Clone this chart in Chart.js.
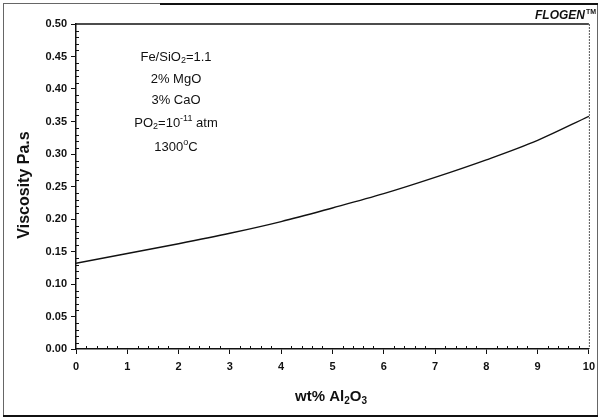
<!DOCTYPE html>
<html>
<head>
<meta charset="utf-8">
<title>Viscosity vs Al2O3</title>
<script src="https://cdn.jsdelivr.net/npm/chart.js@4.4.0/dist/chart.umd.min.js"></script>
<style>
  html, body { margin: 0; padding: 0; background: #fff; }
  #wrap { width: 601px; height: 419px; position: relative; }
</style>
</head>
<body>
<div id="wrap"><canvas id="viscChart" width="601" height="419"></canvas></div>
<script>
// data
const alumina = [0, 1, 2, 3, 4, 5, 6, 7, 8, 9, 10];           // wt% Al2O3
const viscosity = [0.132, 0.147, 0.162, 0.178, 0.196, 0.217, 0.239, 0.264, 0.291, 0.321, 0.358]; // Pa.s
const xRange = [0, 10];
const yRange = [0, 0.5];
// conditions box: each line is a list of [text, style] pieces
const conditions = [
  [["Fe/SiO", "n"], ["2", "sub"], ["=1.1", "n"]],
  [["2% MgO", "n"]],
  [["3% CaO", "n"]],
  [["PO", "n"], ["2", "sub"], ["=10", "n"], ["-11", "sup"], [" atm", "n"]],
  [["1300", "n"], ["o", "sup"], ["C", "n"]]
];
const xTitle = [["wt% Al", "n"], ["2", "sub"], ["O", "n"], ["3", "sub"]];
const yTitle = "Viscosity Pa.s";

const FONT = "'Liberation Sans', Arial, sans-serif";

function drawRich(ctx, parts, cx, cy, size, weight) {
  const small = Math.round(size * 0.68);
  let total = 0;
  parts.forEach(([t, s]) => {
    ctx.font = weight + " " + (s === "n" ? size : small) + "px " + FONT;
    total += ctx.measureText(t).width;
  });
  let x = cx - total / 2;
  ctx.textBaseline = "middle";
  ctx.textAlign = "left";
  parts.forEach(([t, s]) => {
    ctx.font = weight + " " + (s === "n" ? size : small) + "px " + FONT;
    let dy = 0;
    if (s === "sub") dy = size * 0.3;
    if (s === "sup") dy = -size * 0.38;
    ctx.fillText(t, x, cy + dy);
    x += ctx.measureText(t).width;
  });
}

const decor = {
  id: "decor",
  afterDraw(chart) {
    const ctx = chart.ctx;
    const a = chart.chartArea;
    const xs = chart.scales.x, ys = chart.scales.y;
    ctx.save();
    ctx.fillStyle = "#111";
    ctx.strokeStyle = "#111";

    // minor ticks
    ctx.lineWidth = 1;
    ctx.beginPath();
    for (let i = 1; i < 50; i++) {
      if (i % 5 === 0) continue;
      const py = Math.round(ys.getPixelForValue(i / 100)) + 0.5;
      ctx.moveTo(a.left, py); ctx.lineTo(a.left + 3, py);
    }
    for (let i = 1; i < 50; i++) {
      if (i % 5 === 0) continue;
      const px = Math.round(xs.getPixelForValue(i / 5)) + 0.5;
      ctx.moveTo(px, a.bottom); ctx.lineTo(px, a.bottom - 3);
    }
    ctx.stroke();

    // plot frame: solid top, dashed right
    ctx.lineWidth = 1.5;
    ctx.beginPath();
    ctx.moveTo(a.left, a.top); ctx.lineTo(a.right, a.top);
    ctx.stroke();
    ctx.lineWidth = 1;
    ctx.strokeStyle = "#555";
    ctx.setLineDash([2, 1]);
    ctx.beginPath();
    ctx.moveTo(a.right + 0.5, a.top); ctx.lineTo(a.right + 0.5, a.bottom);
    ctx.stroke();

    // outer frame
    ctx.strokeStyle = "#666";
    ctx.setLineDash([]);
    ctx.strokeRect(3.5, 3.5, 594, 412);
    ctx.strokeStyle = "#111";
    ctx.lineWidth = 2;
    ctx.beginPath();
    ctx.moveTo(3, 416); ctx.lineTo(598, 416);
    ctx.moveTo(160, 4); ctx.lineTo(598, 4);
    ctx.stroke();

    // axis titles
    drawRich(ctx, xTitle, 331, 397, 15, "bold");
    ctx.save();
    ctx.translate(25, 185);
    ctx.rotate(-Math.PI / 2);
    ctx.font = "bold 16px " + FONT;
    ctx.textAlign = "center";
    ctx.textBaseline = "middle";
    ctx.fillText(yTitle, 0, 0);
    ctx.restore();

    // conditions
    const rows = [57, 79, 100, 123, 147];
    conditions.forEach((parts, i) => drawRich(ctx, parts, 176, rows[i], 13, "normal"));

    // brand
    ctx.font = "italic bold 12px " + FONT;
    ctx.textAlign = "right";
    ctx.textBaseline = "middle";
    ctx.fillText("FLOGEN", 585, 16);
    ctx.font = "bold 7px " + FONT;
    ctx.textAlign = "left";
    ctx.fillText("TM", 586, 12);
    ctx.restore();
  }
};

const tickFont = { family: FONT, size: 11, weight: "bold" };

new Chart(document.getElementById("viscChart").getContext("2d"), {
  type: "line",
  data: {
    datasets: [{
      data: alumina.map((x, i) => ({ x: x, y: viscosity[i] })),
      borderColor: "#111",
      borderWidth: 1.4,
      pointRadius: 0,
      cubicInterpolationMode: "monotone",
      fill: false
    }]
  },
  options: {
    responsive: false,
    animation: false,
    layout: { padding: { top: 24, right: 8, left: 0, bottom: 0 } },
    plugins: { legend: { display: false }, tooltip: { enabled: false } },
    scales: {
      x: {
        type: "linear",
        min: xRange[0], max: xRange[1],
        ticks: { stepSize: 1, font: tickFont, color: "#111", padding: 6 },
        grid: { drawOnChartArea: false, drawTicks: true, tickLength: 5, color: "#111" },
        border: { display: true, color: "#111", width: 1.5 },
        afterFit(s) { s.height = 70; }
      },
      y: {
        min: yRange[0], max: yRange[1],
        ticks: { stepSize: 0.05, font: tickFont, color: "#111", padding: 4,
                 callback: (v) => v.toFixed(2) },
        grid: { drawOnChartArea: false, drawTicks: true, tickLength: 5, color: "#111" },
        border: { display: true, color: "#111", width: 1.5 },
        afterFit(s) { s.width = 76; }
      }
    }
  },
  plugins: [decor]
});
</script>
</body>
</html>
